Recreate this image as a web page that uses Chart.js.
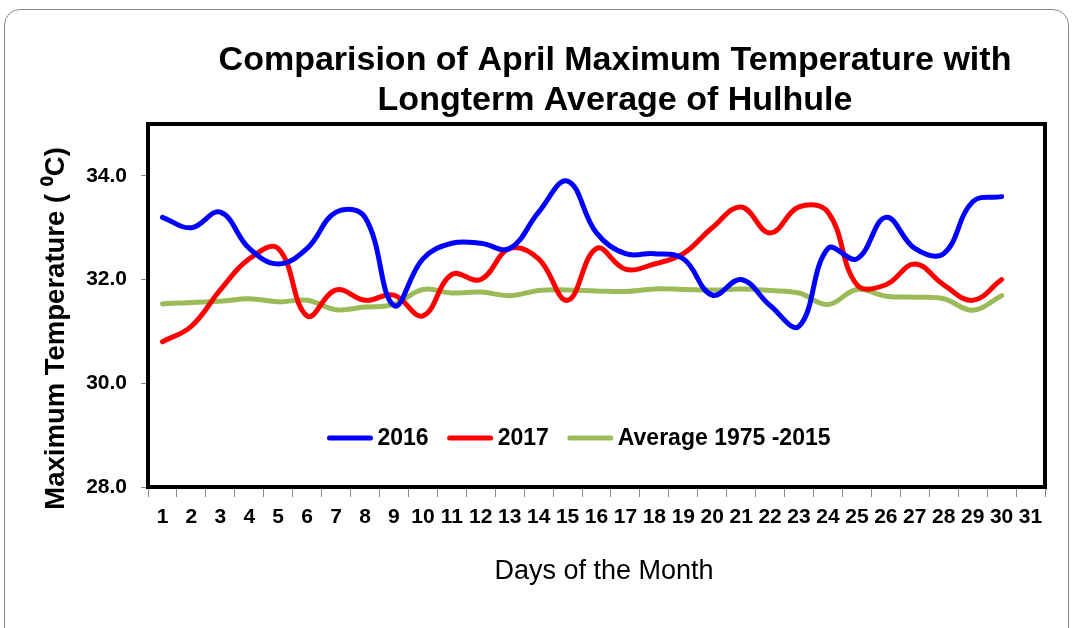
<!DOCTYPE html>
<html>
<head>
<meta charset="utf-8">
<script src="https://cdn.jsdelivr.net/npm/chart.js@4.4.1/dist/chart.umd.min.js"></script>
<style>
  html, body { margin: 0; padding: 0; background: #fff; }
  #wrap { position: relative; width: 1073px; height: 628px; overflow: hidden; }
  #frame { position: absolute; left: 4px; top: 9px; width: 1063px; height: 700px;
           border: 1px solid #8a8a8a; border-radius: 16px; }
  canvas { position: absolute; left: 0; top: 0; }
</style>
</head>
<body>
<div id="wrap">
  <div id="frame"></div>
  <canvas id="c" width="1073" height="628"></canvas>
</div>
<script>
const days = ['1','2','3','4','5','6','7','8','9','10','11','12','13','14','15','16','17','18','19','20','21','22','23','24','25','26','27','28','29','30','31'];
const yTickValues = [28, 30, 32, 34];
const t2016 = [33.2, 33.0, 33.3, 32.6, 32.3, 32.6, 33.3, 33.2, 31.5, 32.4, 32.7, 32.7, 32.6, 33.3, 33.9, 32.9, 32.5, 32.5, 32.4, 31.7, 32.0, 31.5, 31.1, 32.6, 32.4, 33.2, 32.6, 32.5, 33.5, 33.6];
const t2017 = [30.8, 31.1, 31.8, 32.4, 32.6, 31.3, 31.8, 31.6, 31.7, 31.3, 32.1, 32.0, 32.6, 32.4, 31.6, 32.6, 32.2, 32.3, 32.5, 33.0, 33.4, 32.9, 33.4, 33.3, 31.9, 31.9, 32.3, 31.9, 31.6, 32.0];
const avg7515 = [31.53, 31.56, 31.58, 31.63, 31.57, 31.60, 31.42, 31.47, 31.52, 31.81, 31.74, 31.76, 31.69, 31.79, 31.80, 31.78, 31.77, 31.82, 31.81, 31.80, 31.82, 31.79, 31.74, 31.52, 31.81, 31.68, 31.66, 31.63, 31.41, 31.69];
const seriesLabels = ['2016', '2017', 'Average 1975 -2015'];

const FONT = '"Liberation Sans", Arial, Helvetica, sans-serif';

const framePlugin = {
  id: 'frame',
  afterLayout(chart) {
    const t = chart.titleBlock;
    if (t) { t.left = 157; t.right = 1073; }
  },
  afterDatasetsDraw(chart) {
    const {ctx, chartArea: a} = chart;
    ctx.save();
    ctx.strokeStyle = '#000';
    ctx.lineWidth = 4;
    ctx.strokeRect(a.left, a.top, a.right - a.left, a.bottom - a.top);
    ctx.restore();
  }
};

const legendPlugin = {
  id: 'inLegend',
  afterDraw(chart) {
    const {ctx} = chart;
    ctx.save();
    ctx.font = 'bold 23px ' + FONT;
    ctx.textBaseline = 'middle';
    const lineLen = 45, gapLT = 5, gapItem = 19;
    const items = chart.data.datasets.map(d => ({label: d.label, color: d.borderColor, w: ctx.measureText(d.label).width}));
    let total = 0;
    items.forEach((it, i) => { total += lineLen + gapLT + it.w + (i < items.length - 1 ? gapItem : 0); });
    let x = 579 - total / 2;
    const y = 438;
    items.forEach(it => {
      ctx.strokeStyle = it.color;
      ctx.lineWidth = 5;
      ctx.lineCap = 'round';
      ctx.beginPath();
      ctx.moveTo(x + 2, y);
      ctx.lineTo(x + lineLen - 2, y);
      ctx.stroke();
      x += lineLen + gapLT;
      ctx.fillStyle = '#000';
      ctx.textAlign = 'left';
      ctx.fillText(it.label, x, y + 1);
      x += it.w + gapItem;
    });
    ctx.restore();
  }
};

new Chart(document.getElementById('c'), {
  type: 'line',
  data: {
    labels: days,
    datasets: [
      { label: seriesLabels[0], data: t2016, borderColor: '#0000FF' },
      { label: seriesLabels[1], data: t2017, borderColor: '#FF0000' },
      { label: seriesLabels[2], data: avg7515, borderColor: '#9BBB59' }
    ].map(d => Object.assign(d, { borderWidth: 5, pointRadius: 0, tension: 0.4, fill: false, borderCapStyle: 'round', borderJoinStyle: 'round' }))
  },
  options: {
    responsive: false,
    animation: false,
    devicePixelRatio: 1,
    layout: { padding: { left: 0, right: 28, top: 0, bottom: 0 } },
    plugins: {
      legend: { display: false },
      tooltip: { enabled: false },
      title: {
        display: true,
        text: ['Comparision of April Maximum Temperature with', 'Longterm Average of Hulhule'],
        color: '#000',
        font: { family: FONT, size: 34, weight: 'bold', lineHeight: 40 / 34 },
        padding: { top: 41, bottom: 3 }
      }
    },
    scales: {
      x: {
        type: 'category',
        offset: true,
        border: { display: false },
        grid: { display: true, offset: true, drawOnChartArea: false, drawTicks: true, tickLength: 10, tickColor: '#888', lineWidth: 1 },
        ticks: { color: '#000', font: { family: FONT, size: 21, weight: 'bold' }, padding: 8, maxRotation: 0, autoSkip: false },
        title: { display: true, text: '  Days of the Month', color: '#000', font: { family: FONT, size: 27, weight: 'normal', lineHeight: 1.2 }, padding: { top: 40, bottom: 40 } },
        afterFit(scale) { scale.height = 141; }
      },
      y: {
        min: 28, max: 35,
        border: { display: false },
        grid: { display: true, drawOnChartArea: false, drawTicks: true, tickLength: 7, tickColor: '#888', lineWidth: 1 },
        ticks: { stepSize: 2, color: '#000', font: { family: FONT, size: 21, weight: 'bold' }, padding: 14,
                 callback: v => Number(v).toFixed(1) },
        afterBuildTicks(scale) { scale.ticks = yTickValues.map(v => ({ value: v })); },
        title: { display: true, text: 'Maximum Temperature ( \u2070C)      ', color: '#000', font: { family: FONT, size: 27.5, weight: 'bold', lineHeight: 1.2 }, padding: { top: 40, bottom: 40 } },
        afterFit(scale) { scale.width = 148; }
      }
    }
  },
  plugins: [framePlugin, legendPlugin]
});
</script>
</body>
</html>
